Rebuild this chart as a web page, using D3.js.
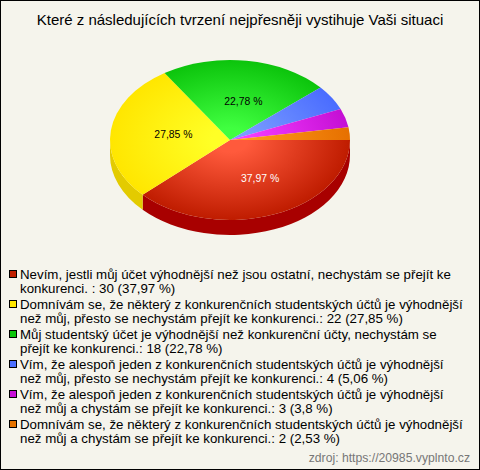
<!DOCTYPE html>
<html><head><meta charset="utf-8"><script src="https://cdn.jsdelivr.net/npm/d3@7"></script>
<style>html,body{margin:0;padding:0;background:#fff}svg{display:block}text{font-family:"Liberation Sans",Arial,sans-serif}</style></head>
<body><div id="c"></div>
<script>
const title = "Které z následujících tvrzení nejpřesněji vystihuje Vaši situaci";
const values = [30, 22, 18, 4, 3, 2];
const percentLabels = ["37,97 %", "27,85 %", "22,78 %", "", "", ""];
const labelColors = ["#fff", "#000", "#000", "#000", "#000", "#000"];
const legendLines = [
  ["Nevím, jestli můj účet výhodnější než jsou ostatní, nechystám se přejít ke", "konkurenci. : 30 (37,97 %)"],
  ["Domnívám se, že některý z konkurenčních studentských účtů je výhodnější", "než můj, přesto se nechystám přejít ke konkurenci.: 22 (27,85 %)"],
  ["Můj studentský účet je výhodnější než konkurenční účty, nechystám se", "přejít ke konkurenci.: 18 (22,78 %)"],
  ["Vím, že alespoň jeden z konkurenčních studentských účtů je výhodnější", "než můj, přesto se nechystám přejít ke konkurenci.: 4 (5,06 %)"],
  ["Vím, že alespoň jeden z konkurenčních studentských účtů je výhodnější", "než můj a chystám se přejít ke konkurenci.: 3 (3,8 %)"],
  ["Domnívám se, že některý z konkurenčních studentských účtů je výhodnější", "než můj a chystám se přejít ke konkurenci.: 2 (2,53 %)"]
];
const source = "zdroj: https://20985.vyplnto.cz";
const swatchColors = ["#c01f00", "#ffe600", "#0cc60c", "#4d70ff", "#c80fd8", "#e67300"];
const centerColors = ["#ff5a3c", "#ffff26", "#40ff40", "#7a9cff", "#f53cff", "#ff9a1a"];
const edgeColors = ["#bf1c00", "#ffe600", "#0cc40c", "#4a6cff", "#c40fd4", "#e67000"];
const wallColors = ["#a80000", "#e3cb00", "#0aa00a", "#3a58cc", "#a00caa", "#c25f00"];
const labelNudge = [[8, 1], [3, -1], [5, 1]];

const W = 480, H = 470, cx = 230, cy = 140, rx = 120, ry = 80, depth = 15;
const svg = d3.select("#c").append("svg").attr("width", W).attr("height", H);
svg.append("rect").attr("x", 0.5).attr("y", 0.5).attr("width", W - 1).attr("height", H - 1)
  .attr("fill", "#f5f4ec").attr("stroke", "#000");

svg.append("text").attr("x", 240).attr("y", 25).attr("text-anchor", "middle")
  .attr("font-size", 15).attr("fill", "#000").text(title);

const slices = d3.pie().sort(null).startAngle(Math.PI / 2).endAngle(Math.PI * 2.5)(values);
const defs = svg.append("defs");
centerColors.forEach((c, i) => {
  const g = defs.append("radialGradient").attr("id", "g" + i).attr("gradientUnits", "userSpaceOnUse")
    .attr("cx", 0).attr("cy", 0).attr("r", rx);
  g.append("stop").attr("offset", 0).attr("stop-color", c);
  g.append("stop").attr("offset", 0.15).attr("stop-color", c);
  g.append("stop").attr("offset", 1).attr("stop-color", edgeColors[i]);
});
const yScale = d3.scaleLinear().domain([0, rx]).range([0, ry]);
const pieG = svg.append("g").attr("transform", `translate(${cx},${cy})`);

// side wall: slice angles are measured from 12 o'clock, visible wall spans PI/2..3PI/2
const toScreen = a => [rx * Math.sin(a), -yScale(rx * Math.cos(a))];
slices.forEach((s, i) => {
  const a0 = Math.max(s.startAngle, Math.PI / 2), a1 = Math.min(s.endAngle, Math.PI * 1.5);
  if (a1 <= a0) return;
  const [x0, y0] = toScreen(a0), [x1, y1] = toScreen(a1);
  pieG.append("path").attr("fill", wallColors[i])
    .attr("d", `M${x0},${y0}A${rx},${ry} 0 0 1 ${x1},${y1}L${x1},${y1 + depth}A${rx},${ry} 0 0 0 ${x0},${y0 + depth}Z`);
});

const arc = d3.arc().innerRadius(0).outerRadius(rx);
const topG = pieG.append("g").attr("transform", `scale(1,${ry / rx})`);
topG.selectAll("path").data(slices).join("path").attr("d", arc).attr("fill", (d, i) => `url(#g${i})`);

slices.forEach((s, i) => {
  if (!percentLabels[i]) return;
  const a = (s.startAngle + s.endAngle) / 2, [x, y] = toScreen(a), n = labelNudge[i];
  pieG.append("text").attr("x", x * 0.5 + n[0]).attr("y", y * 0.5 + n[1] + 4).attr("text-anchor", "middle")
    .attr("font-size", 10.4).attr("fill", labelColors[i]).text(percentLabels[i]);
});

const lg = svg.append("g");
legendLines.forEach((lines, i) => {
  const y = 270 + i * 30;
  lg.append("rect").attr("x", 9.5).attr("y", y + 0.5).attr("width", 7).attr("height", 7)
    .attr("fill", swatchColors[i]).attr("stroke", "#000");
  lines.forEach((t, j) => lg.append("text").attr("x", 20).attr("y", y + 9 + j * 14).attr("font-size", 13.3).attr("fill", "#000").text(t));
});
svg.append("text").attr("x", 470).attr("y", 462).attr("text-anchor", "end").attr("font-size", 12.2).attr("fill", "#777").text(source);
</script></body></html>
